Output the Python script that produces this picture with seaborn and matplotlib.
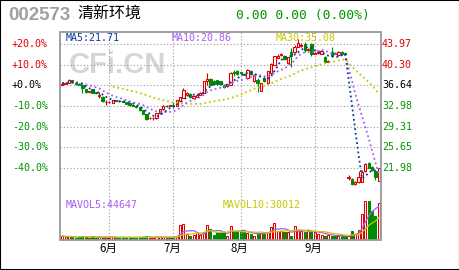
import numpy as np
import pandas as pd
import matplotlib
matplotlib.use("Agg")
import matplotlib.pyplot as plt
import matplotlib.transforms as mtrans
from matplotlib.patches import Rectangle
import seaborn as sns

# ---------------- data ----------------
stock_code = "002573"
stock_name = "清新环境"
quote_text = "0.00 0.00 (0.00%)"
base_price = 36.64
pct_levels = [20, 10, 0, -10, -20, -30, -40]
price_labels = ["43.97", "40.30", "36.64", "32.98", "29.31", "25.65", "21.98"]
month_labels = ["6月", "7月", "8月", "9月"]
month_start = [14, 33, 53, 75]
ma_texts = ["MA5:21.71", "MA10:20.86", "MA30:35.08"]
vol_texts = ["MAVOL5:44647", "MAVOL10:30012"]

# closes before the first visible day (read back from the moving averages)
prior_close = [37.8, 37.5, 37.2, 37.6, 37.9, 37.4, 37.1, 36.9, 37.3, 37.0, 36.8, 37.2, 37.1, 36.9]

open_ = [36.70, 36.90, 37.05, 37.50, 37.10, 36.85, 36.65, 35.90, 35.45, 36.00,
         35.40, 34.75, 34.60, 33.60, 33.65, 33.50, 33.95, 33.90, 33.85, 33.70,
         33.40, 33.10, 33.00, 32.75, 32.25, 31.55, 30.75, 30.80, 30.85, 31.70,
         32.40, 33.00, 32.95, 33.20, 32.95, 33.90, 34.40, 34.90, 35.10, 34.30,
         34.55, 34.90, 35.30, 37.35, 37.70, 37.40, 37.50, 37.30, 36.70, 36.45,
         36.75, 38.90, 39.10, 38.90, 38.70, 37.85, 39.20, 37.35, 37.60, 35.70,
         38.00, 37.00, 38.80, 40.30, 41.50, 41.95, 41.90, 40.50, 42.60, 42.50,
         43.50, 43.60, 44.00, 42.80, 43.90, 42.20, 42.30, 42.20, 41.70, 40.80,
         42.60, 42.40, 42.00, 42.60, 42.30, 20.25, 20.10, 19.05, 19.40, 19.50,
         21.40, 22.90, 22.20, 21.40, 19.70]
high = [37.00, 37.20, 37.70, 37.60, 37.15, 36.95, 36.85, 36.00, 35.70, 36.05,
        35.45, 35.35, 34.65, 33.95, 33.80, 34.10, 34.00, 33.95, 33.90, 33.75,
        33.45, 33.15, 33.05, 32.80, 32.30, 31.60, 30.95, 31.00, 31.75, 32.45,
        33.05, 33.10, 33.15, 33.60, 34.05, 34.60, 36.10, 35.40, 35.30, 34.75,
        35.05, 35.40, 37.45, 38.80, 37.85, 37.55, 37.60, 37.45, 36.80, 36.90,
        38.90, 39.30, 39.25, 39.00, 38.80, 39.50, 39.40, 38.60, 37.90, 37.10,
        38.20, 39.20, 40.50, 41.90, 42.20, 42.40, 42.00, 41.70, 43.20, 43.70,
        44.80, 44.10, 44.30, 43.20, 44.20, 42.55, 42.60, 42.90, 41.80, 41.10,
        43.40, 42.60, 42.70, 42.70, 42.40, 20.70, 20.20, 19.60, 21.40, 21.60,
        22.80, 23.10, 22.30, 21.50, 22.00]
low = [36.60, 36.85, 37.00, 37.10, 36.70, 36.60, 35.20, 35.30, 35.40, 35.25,
       35.15, 34.30, 33.75, 33.10, 33.55, 33.45, 33.80, 33.75, 33.65, 33.30,
       33.00, 32.95, 32.65, 32.15, 31.55, 30.50, 30.65, 30.55, 30.60, 31.60,
       32.30, 32.85, 32.90, 32.60, 32.90, 33.80, 34.30, 34.80, 34.40, 34.20,
       34.50, 34.85, 35.20, 36.70, 36.65, 36.80, 36.70, 36.75, 36.20, 36.35,
       36.65, 38.30, 38.50, 38.70, 38.40, 37.75, 38.50, 37.25, 35.50, 35.60,
       37.20, 36.90, 38.70, 40.20, 41.40, 41.85, 41.10, 40.40, 39.80, 42.30,
       43.40, 43.40, 42.60, 42.60, 41.90, 42.10, 42.20, 42.10, 40.60, 40.70,
       41.70, 42.10, 41.90, 42.10, 42.10, 19.90, 19.00, 18.90, 19.30, 19.40,
       21.30, 21.90, 21.50, 19.90, 19.60]
close = [36.90, 37.10, 37.55, 37.20, 36.80, 36.70, 36.10, 35.35, 35.60, 35.30,
         35.25, 34.95, 33.80, 33.65, 33.70, 34.00, 33.85, 33.80, 33.70, 33.35,
         33.05, 33.00, 32.70, 32.20, 31.60, 30.60, 30.85, 30.90, 31.65, 32.35,
         32.95, 32.95, 33.05, 32.95, 34.00, 34.50, 35.85, 35.25, 34.55, 34.65,
         34.95, 35.30, 37.30, 37.80, 36.75, 36.90, 36.80, 36.85, 36.30, 36.80,
         38.75, 38.75, 38.60, 38.75, 38.50, 39.35, 38.60, 38.50, 37.00, 37.00,
         37.30, 39.10, 40.40, 41.80, 41.90, 42.20, 41.30, 41.60, 41.80, 43.40,
         44.20, 43.70, 42.90, 43.00, 42.10, 42.40, 42.50, 42.70, 40.80, 40.95,
         41.90, 42.20, 42.50, 42.20, 42.20, 20.35, 19.10, 19.50, 20.30, 21.20,
         22.60, 22.00, 21.65, 20.30, 21.90]
volume = [4800, 3400, 4100, 3400, 2700, 3400, 5400, 4100, 2700, 3400,
          2700, 3400, 3400, 2700, 2700, 3400, 2700, 2700, 2700, 2700,
          3400, 2700, 2700, 3400, 3400, 4100, 2700, 2700, 3400, 3400,
          3400, 2700, 2700, 3400, 5400, 20000, 21400, 7800, 4500, 6800,
          9100, 6800, 9900, 20000, 14600, 6800, 9900, 8600, 9900, 5400,
          19000, 12200, 9900, 12200, 9900, 8600, 7800, 4500, 8600, 9100,
          9900, 9900, 16700, 22200, 12200, 12200, 9900, 9900, 5400, 18100,
          13600, 11300, 9900, 10900, 12200, 9900, 7800, 6400, 5400, 6400,
          5400, 4500, 5400, 4500, 4500, 5400, 11300, 7800, 13600, 35000,
          51700, 51700, 38100, 32600, 50300]

# ---------------- style ----------------
sns.set_theme(style="white")
plt.rcParams['font.family'] = ['DejaVu Sans Mono', 'Noto Sans CJK SC']

RED = '#e00000'
GREEN = '#008c00'
LBL_GREEN = '#009600'
BLUE = '#0a3a9a'
PURPLE = '#a75cf5'
YELLOW = '#c8c800'
GRID = '#9a9a9a'

W, H = 460, 270
fig = plt.figure(figsize=(W / 100, H / 100), dpi=100)
fig.patch.set_facecolor('white')

def fx(px):
    return px / W

def fy(py):
    return 1 - py / H

rect = [fx(60.5), fy(239.5), fx(380.5) - fx(60.5), fy(31.5) - fy(239.5)]
ax = fig.add_axes(rect)
vax = fig.add_axes(rect)
for a in (ax, vax):
    a.set_xlim(-0.5, len(close) - 0.5)
    a.set_xticks([])
    a.set_yticks([])
    a.set_facecolor('none')
    for s in a.spines.values():
        s.set_visible(False)
vax.set_zorder(0)
ax.set_zorder(1)
ax.set_ylim(9.29, 46.16)
vax.set_ylim(0, 282880)

n = len(close)
x = np.arange(n)
o = np.array(open_)
c = np.array(close)
hi = np.array(high)
lo = np.array(low)
up = c >= o

# grid lines
levels = [base_price * (1 + p / 100) for p in pct_levels]
for lv in levels:
    ax.axhline(lv, color=GRID, lw=0.8, ls=(0, (1, 2)), zorder=0)
for m in month_start:
    ax.axvline(m, color=GRID, lw=0.8, ls=(0, (1, 2)), zorder=0)

# watermark
fig.text(fx(117), fy(65), "CFi.CN", fontsize=21, fontweight='bold',
         family='Liberation Sans', color='#d6d6d6', ha='center', va='center', zorder=0)

# volume bars
vcol = [RED if u else GREEN for u in up]
vface = ['white' if u else GREEN for u in up]
vax.bar(x, volume, width=0.62, bottom=0, color=vface, edgecolor=vcol, linewidth=0.75, zorder=2)

vol = pd.Series(volume, dtype=float)
mavol5 = vol.rolling(5, min_periods=1).mean()
mavol10 = vol.rolling(10, min_periods=1).mean()
sns.lineplot(x=x, y=mavol5.values, ax=vax, color=PURPLE, lw=0.9, legend=False, zorder=3)
sns.lineplot(x=x, y=mavol10.values, ax=vax, color=YELLOW, lw=0.9, legend=False, zorder=3)

# candles
bw = 0.66
for i in range(n):
    top, bot = max(o[i], c[i]), min(o[i], c[i])
    col = RED if up[i] else GREEN
    if up[i]:
        ax.vlines(i, top, hi[i], color=col, lw=0.8, zorder=3)
        ax.vlines(i, lo[i], bot, color=col, lw=0.8, zorder=3)
    else:
        ax.vlines(i, lo[i], hi[i], color=col, lw=0.8, zorder=3)
    if top - bot < 0.08:
        ax.hlines((top + bot) / 2, i - bw / 2, i + bw / 2, color=col, lw=1.0, zorder=4)
    else:
        ax.bar(i, top - bot, bottom=bot, width=bw,
               color='white' if up[i] else col, edgecolor=col, linewidth=0.8, zorder=4)

# moving averages
full = pd.Series(prior_close + close, dtype=float)
k = len(prior_close)
ma5 = full.rolling(5, min_periods=5).mean().values[k:]
ma10 = full.rolling(10, min_periods=10).mean().values[k:]
ma30 = full.rolling(30, min_periods=30).mean().values[k:]
dot = (0, (1, 1.6))
for series, col in ((ma30, YELLOW), (ma10, PURPLE), (ma5, BLUE)):
    msk = ~np.isnan(series)
    sns.lineplot(x=x[msk], y=series[msk], ax=ax, color=col, lw=1.3,
                 linestyle=dot, legend=False, zorder=5)

# frame
ax.add_patch(Rectangle((0, 0), 1, 1, transform=ax.transAxes, fill=False,
                       edgecolor='#999999', lw=1.3, zorder=10, clip_on=False))

# axis labels
blend = mtrans.blended_transform_factory(fig.transFigure, ax.transData)
for p, lv, plab in zip(pct_levels, levels, price_labels):
    col = RED if p > 0 else ('black' if p == 0 else LBL_GREEN)
    fig.text(fx(12), lv, f"{p:+.1f}%", transform=blend, fontsize=7.2,
             color=col, ha='left', va='center')
    fig.text(fx(382), lv, plab, transform=blend, fontsize=7.2,
             color=col, ha='left', va='center')

xblend = mtrans.blended_transform_factory(ax.transData, fig.transFigure)
for m, lab in zip(month_start, month_labels):
    fig.text(m - 0.4, fy(248), lab, transform=xblend, fontsize=8.3,
             family=['Noto Sans CJK SC'], color='black', ha='center', va='center')

# MA labels
for t, xp, col in zip(ma_texts, (66, 172, 276), (BLUE, PURPLE, YELLOW)):
    fig.text(fx(xp), fy(38.3), t, fontsize=7.2, color=col, ha='left', va='center', zorder=20)
for t, xp, col in zip(vol_texts, (66, 223), (PURPLE, YELLOW)):
    fig.text(fx(xp), fy(205), t, fontsize=7.2, color=col, ha='left', va='center', zorder=20)

# header
fig.text(fx(8), fy(16), stock_code, fontsize=13.5, family='Liberation Sans',
         fontweight='bold', color='#a0a0a0', ha='left', va='center')
fig.text(fx(77), fy(14.5), stock_name, fontsize=11.5, family=['Noto Sans CJK SC'],
         color='black', ha='left', va='center')
fig.text(fx(236.5), fy(15), quote_text, fontsize=9.4, color=LBL_GREEN,
         ha='left', va='center')

# outer border
fig.patches.append(Rectangle((0, 0), 1, 1, transform=fig.transFigure, fill=False,
                             edgecolor='black', lw=1.5, zorder=30))

fig.savefig("out.png", dpi=100)
